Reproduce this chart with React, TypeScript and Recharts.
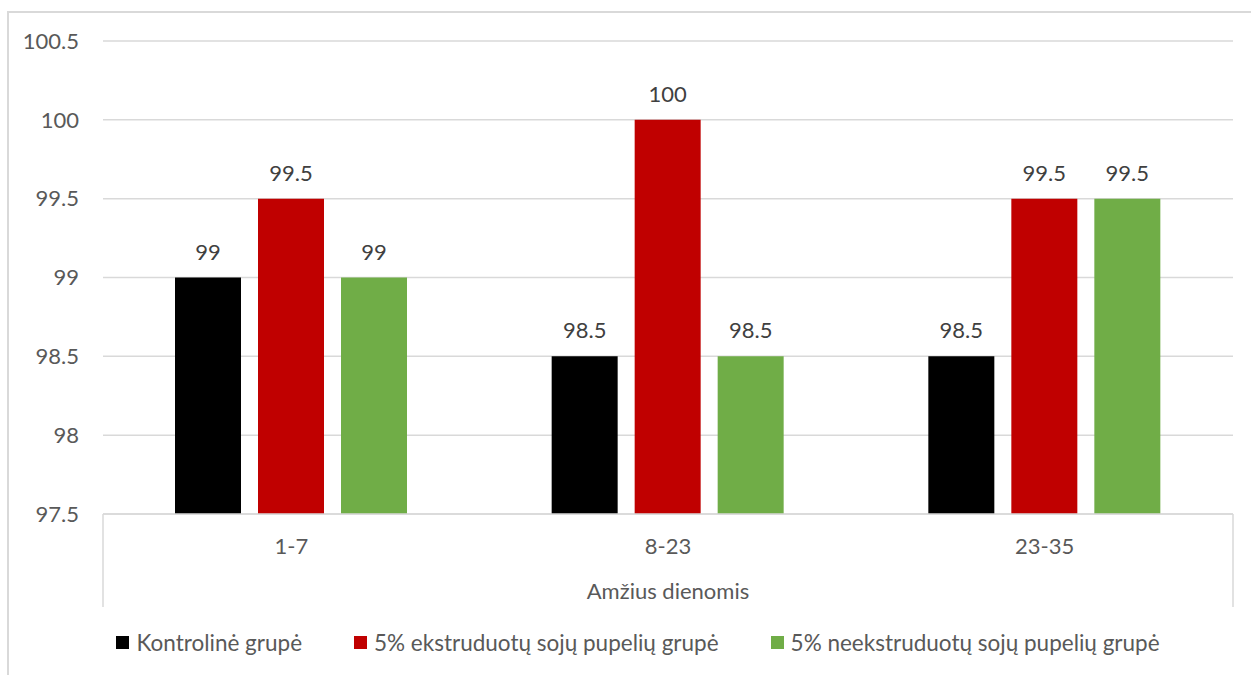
import React from "react";
import {
  BarChart,
  Bar,
  XAxis,
  YAxis,
  CartesianGrid,
  Legend,
  LabelList,
  usePlotArea,
} from "recharts";

// Age groups in days
const ageGroups = ["1-7", "8-23", "23-35"];

// Series values per age group
const kontroline = [99, 98.5, 98.5];
const ekstruduotu = [99.5, 100, 99.5];
const neekstruduotu = [99, 98.5, 99.5];

const yTicks = [97.5, 98, 98.5, 99, 99.5, 100, 100.5];

const seriesNames = [
  "Kontrolinė grupė",
  "5% ekstruduotų sojų pupelių grupė",
  "5% neekstruduotų sojų pupelių grupė",
];
const seriesColors = ["#000000", "#C00000", "#70AD47"];

const data = ageGroups.map((g, i) => ({
  age: g,
  k: kontroline[i],
  e: ekstruduotu[i],
  n: neekstruduotu[i],
}));

const FONT = "Lato, 'Open Sans', sans-serif";
const TICK_COLOR = "#595959";
const LABEL_COLOR = "#404040";
const LINE_COLOR = "#d9d9d9";

// Tall tick marks at both ends of the category axis
function AxisEnds() {
  const area = usePlotArea();
  if (!area) return null;
  const bottom = area.y + area.height;
  return (
    <g>
      <line x1={area.x} x2={area.x} y1={bottom} y2={bottom + 93} stroke={LINE_COLOR} strokeWidth={1.5} />
      <line
        x1={area.x + area.width}
        x2={area.x + area.width}
        y1={bottom}
        y2={bottom + 93}
        stroke={LINE_COLOR}
        strokeWidth={1.5}
      />
    </g>
  );
}

function LegendContent() {
  return (
    <div
      style={{
        height: 40,
        display: "flex",
        alignItems: "center",
        justifyContent: "center",
        gap: 52,
        fontFamily: FONT,
        fontSize: 22.5,
        color: TICK_COLOR,
      }}
    >
      {seriesNames.map((name, i) => (
        <span key={name} style={{ display: "flex", alignItems: "center", gap: 7 }}>
          <span style={{ width: 13, height: 13, background: seriesColors[i], display: "inline-block" }} />
          {name}
        </span>
      ))}
    </div>
  );
}

export default function App() {
  return (
    <div style={{ position: "absolute", left: 0, top: 0, width: 1251, height: 675, background: "#fff", overflow: "hidden" }}>
      <div
        style={{
          position: "absolute",
          left: 7,
          top: 11,
          width: 1300,
          height: 700,
          borderLeft: `2px solid ${LINE_COLOR}`,
          borderTop: `2px solid ${LINE_COLOR}`,
        }}
      />
      <div style={{ position: "absolute", left: 0, top: 0 }}>
        <BarChart
          width={1251}
          height={675}
          data={data}
          margin={{ top: 41, right: 18, bottom: 13, left: 43 }}
          barCategoryGap={72}
          barGap={17}
          style={{ fontFamily: FONT }}
        >
          <CartesianGrid vertical={false} stroke={LINE_COLOR} strokeWidth={1.5} />
          <XAxis
            dataKey="age"
            height={108}
            axisLine={{ stroke: LINE_COLOR, strokeWidth: 1.5 }}
            tickLine={false}
            tickSize={0}
            tickMargin={24}
            tick={{ fill: TICK_COLOR, fontSize: 22, fontFamily: FONT }}
            label={{
              value: "Amžius dienomis",
              position: "insideBottom",
              offset: 23,
              fill: TICK_COLOR,
              fontSize: 22,
              fontFamily: FONT,
            }}
          />
          <YAxis
            width={60}
            domain={[97.5, 100.5]}
            ticks={yTicks}
            allowDataOverflow
            axisLine={false}
            tickLine={false}
            tickSize={0}
            tickMargin={24}
            tick={{ fill: TICK_COLOR, fontSize: 22, fontFamily: FONT }}
          />
          <Legend verticalAlign="bottom" height={40} content={<LegendContent />} />
          <Bar dataKey="k" name={seriesNames[0]} fill={seriesColors[0]} isAnimationActive={false}>
            <LabelList dataKey="k" position="top" offset={18} fill={LABEL_COLOR} fontSize={22} fontFamily={FONT} />
          </Bar>
          <Bar dataKey="e" name={seriesNames[1]} fill={seriesColors[1]} isAnimationActive={false}>
            <LabelList dataKey="e" position="top" offset={18} fill={LABEL_COLOR} fontSize={22} fontFamily={FONT} />
          </Bar>
          <Bar dataKey="n" name={seriesNames[2]} fill={seriesColors[2]} isAnimationActive={false}>
            <LabelList dataKey="n" position="top" offset={18} fill={LABEL_COLOR} fontSize={22} fontFamily={FONT} />
          </Bar>
          <AxisEnds />
        </BarChart>
      </div>
    </div>
  );
}
